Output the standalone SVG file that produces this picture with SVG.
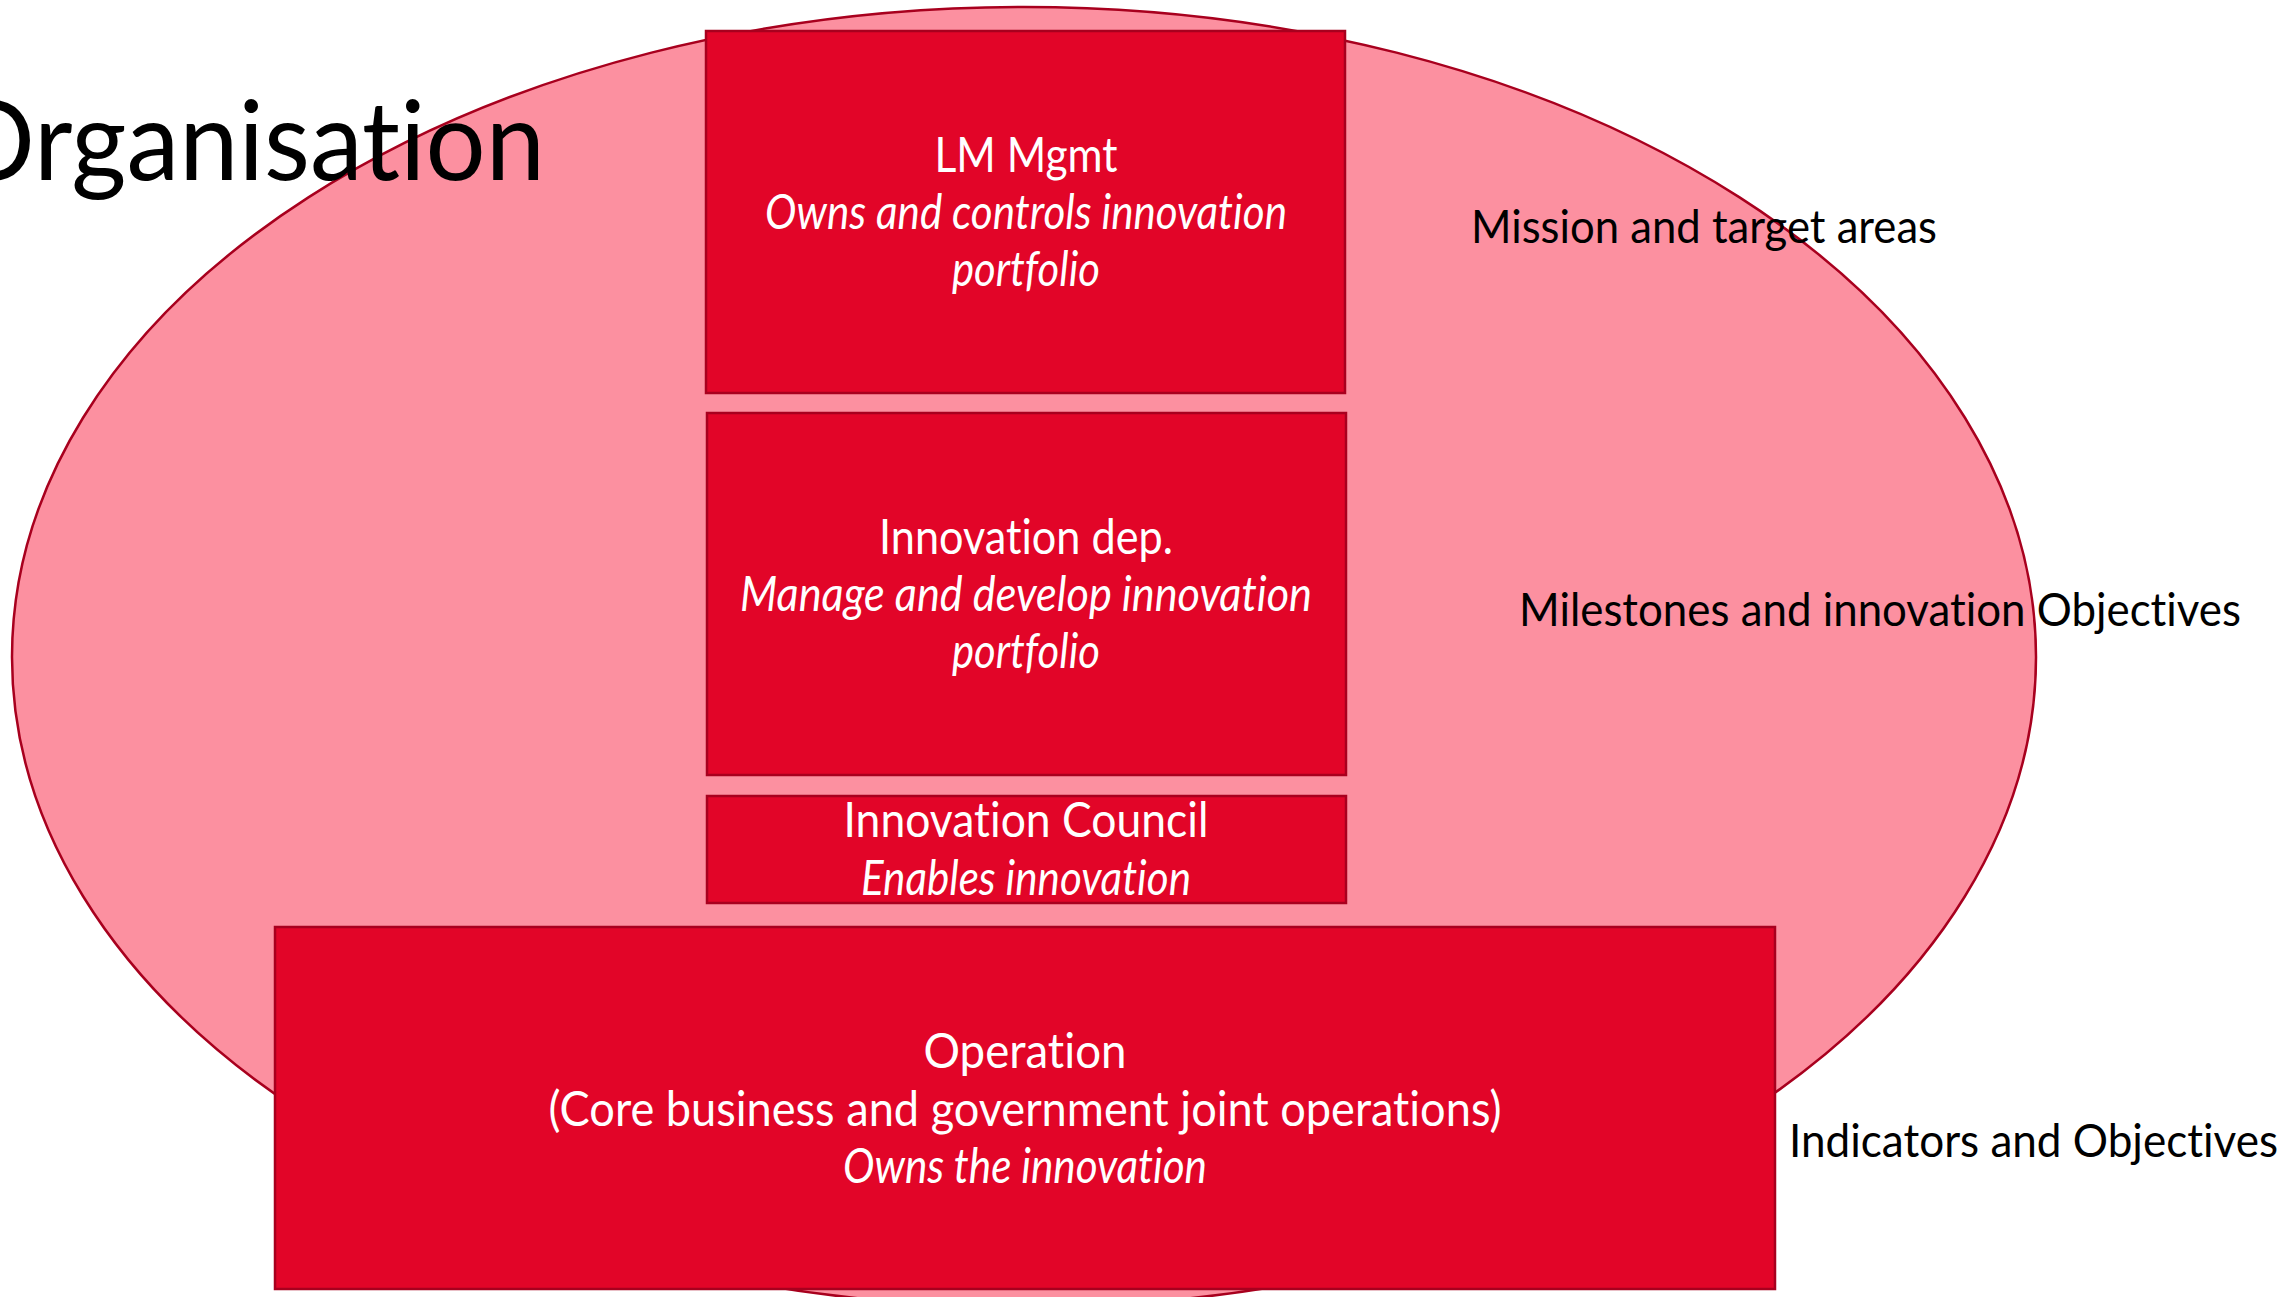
<svg xmlns="http://www.w3.org/2000/svg" width="2292" height="1297" viewBox="0 0 2292 1297">
<style>
text{font-variant-ligatures:none;font-feature-settings:"liga" 0,"dlig" 0,"calt" 0,"clig" 0}
.box{fill:#E20528;stroke:#A8001E;stroke-width:2.5}
.org{fill:#FC90A0;stroke:#A8001E;stroke-width:2.5}
.wt{font-family:Lato,"Open Sans","Liberation Sans",sans-serif;font-size:48px;fill:#FFFFFF;text-anchor:middle}
.it{font-style:italic}
.bk{font-family:Lato,"Open Sans","Liberation Sans",sans-serif;font-size:46px;fill:#000000}
.title{font-family:Lato,"Open Sans","Liberation Sans",sans-serif;font-size:110px;fill:#000000}
</style>
<rect x="0" y="0" width="2292" height="1297" fill="#FFFFFF"/>
<g id="organisation">
<ellipse class="org" cx="1024" cy="657" rx="1012" ry="650"/>
<text class="title" x="-50" y="180" textLength="595" lengthAdjust="spacingAndGlyphs">Organisation</text>
</g>
<g id="connectors"></g>
<g id="lm-mgmt">
<rect class="box" x="706" y="31" width="639" height="362"/>
<text class="wt" x="1026" y="172" textLength="183" lengthAdjust="spacingAndGlyphs">LM Mgmt</text>
<text class="wt it" x="1026" y="229" textLength="522" lengthAdjust="spacingAndGlyphs">Owns and controls innovation</text>
<text class="wt it" x="1026" y="286" textLength="148" lengthAdjust="spacingAndGlyphs">portfolio</text>
</g>
<g id="innovation-dep">
<rect class="box" x="707" y="413" width="639" height="362"/>
<text class="wt" x="1026" y="554" textLength="294" lengthAdjust="spacingAndGlyphs">Innovation dep.</text>
<text class="wt it" x="1026" y="611" textLength="572" lengthAdjust="spacingAndGlyphs">Manage and develop innovation</text>
<text class="wt it" x="1026" y="668" textLength="148" lengthAdjust="spacingAndGlyphs">portfolio</text>
</g>
<g id="innovation-council">
<rect class="box" x="707" y="796" width="639" height="107"/>
<text class="wt" x="1026" y="837" textLength="365" lengthAdjust="spacingAndGlyphs">Innovation Council</text>
<text class="wt it" x="1026" y="895" textLength="330" lengthAdjust="spacingAndGlyphs">Enables innovation</text>
</g>
<g id="operation">
<rect class="box" x="275" y="927" width="1500" height="362"/>
<text class="wt" x="1025" y="1068" textLength="203" lengthAdjust="spacingAndGlyphs">Operation</text>
<text class="wt" x="1025" y="1126" textLength="953" lengthAdjust="spacingAndGlyphs">(Core business and government joint operations)</text>
<text class="wt it" x="1025" y="1183" textLength="364" lengthAdjust="spacingAndGlyphs">Owns the innovation</text>
</g>
<g id="mission-label">
<text class="bk" x="1471" y="243" textLength="466" lengthAdjust="spacingAndGlyphs">Mission and target areas</text>
</g>
<g id="milestones-label">
<text class="bk" x="1519" y="626" textLength="722" lengthAdjust="spacingAndGlyphs">Milestones and innovation Objectives</text>
</g>
<g id="indicators-label">
<text class="bk" x="1789" y="1157" textLength="489" lengthAdjust="spacingAndGlyphs">Indicators and Objectives</text>
</g>
</svg>
